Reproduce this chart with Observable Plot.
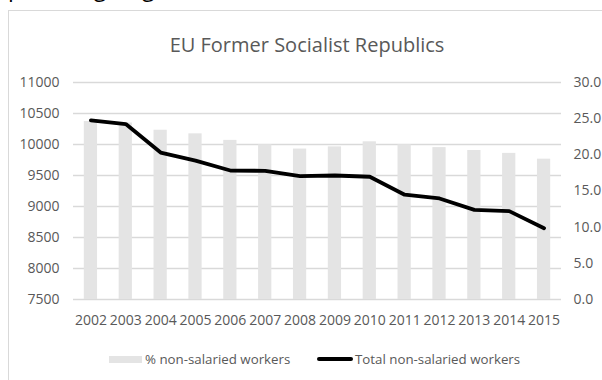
<!DOCTYPE html>
<html>
<head>
<meta charset="utf-8">
<script src="https://cdn.jsdelivr.net/npm/d3@7"></script>
<script src="https://cdn.jsdelivr.net/npm/@observablehq/plot@0.6"></script>
<style>
  html, body { margin: 0; padding: 0; background: #fff; }
  #wrap { position: relative; width: 602px; height: 380px; overflow: hidden; background: #fff; font-family: "Open Sans", sans-serif; }
  #frame { position: absolute; left: 8px; top: 10px; width: 1000px; height: 1000px; border-left: 1px solid #d9d9d9; border-top: 1px solid #d9d9d9; }
  #cut { position: absolute; left: 8px; top: -24px; font-size: 23px; line-height: 23px; letter-spacing: -1.2px; word-spacing: 2px; color: #000; white-space: nowrap; }
  #title { position: absolute; left: 0; width: 614px; top: 32px; line-height: 26px; text-align: center; font-size: 20px; color: #595959; }
  #chart { position: absolute; left: 0; top: 70px; }
  .lg { position: absolute; font-size: 13.3px; color: #595959; line-height: 16px; top: 351px; white-space: nowrap; }
  .sw { position: absolute; }
</style>
</head>
<body>
<div id="wrap">
  <div id="frame"></div>
  <div id="cut">percentage (right), 2002-2015</div>
  <div id="title">EU Former Socialist Republics</div>
  <div id="chart"></div>
  <div class="sw" style="left:109px;top:356px;width:33px;height:7px;background:#e4e4e4"></div>
  <div class="lg" style="left:145px">% non-salaried workers</div>
  <div class="sw" style="left:317px;top:356.5px;width:36px;height:4px;background:#000;border-radius:2px"></div>
  <div class="lg" style="left:355px">Total non-salaried workers</div>
</div>
<script>
const years = ["2002","2003","2004","2005","2006","2007","2008","2009","2010","2011","2012","2013","2014","2015"];
const pctNonSalaried = [24.6, 24.4, 23.4, 22.9, 22.0, 21.4, 20.8, 21.1, 21.8, 21.4, 21.0, 20.6, 20.2, 19.4];
const totalNonSalaried = [10390, 10330, 9870, 9740, 9580, 9575, 9490, 9500, 9480, 9190, 9130, 8945, 8925, 8650];
const leftTicks = [7500, 8000, 8500, 9000, 9500, 10000, 10500, 11000];
const rightTicks = [0, 5, 10, 15, 20, 25, 30];

const leftMin = 7500, leftMax = 11000, rightMax = 30;
const toLeft = v => leftMin + v * (leftMax - leftMin) / rightMax;
const toPct = v => (v - leftMin) * rightMax / (leftMax - leftMin);

const rows = years.map((year, i) => ({year, pct: pctNonSalaried[i], total: totalNonSalaried[i]}));

const chart = Plot.plot({
  width: 602,
  height: 260,
  marginLeft: 73,
  marginRight: 41,
  marginTop: 12,
  marginBottom: 31,
  style: {fontFamily: "Open Sans", fontSize: "14px", color: "#595959", background: "transparent", overflow: "visible"},
  x: {type: "band", domain: years, paddingInner: 0.62, paddingOuter: 0.31, round: false, label: null},
  y: {domain: [leftMin, leftMax], label: null},
  marks: [
    Plot.gridY(leftTicks, {stroke: "#d9d9d9", strokeOpacity: 1, strokeWidth: 1.3}),
    Plot.barY(rows, {x: "year", y1: leftMin, y2: d => toLeft(d.pct), fill: "#e4e4e4"}),
    Plot.lineY(rows, {x: "year", y: "total", stroke: "#000", strokeWidth: 3.8, strokeLinejoin: "round", strokeLinecap: "round"}),
    Plot.axisY(leftTicks, {anchor: "left", tickSize: 0, tickPadding: 14, label: null, tickFormat: d => String(d), fill: "#595959"}),
    Plot.axisY(rightTicks.map(toLeft), {anchor: "right", tickSize: 0, tickPadding: 12, label: null, tickFormat: d => toPct(d).toFixed(1), fill: "#595959"}),
    Plot.axisX(years, {tickSize: 0, tickPadding: 16, label: null, fill: "#595959"})
  ]
});
document.getElementById("chart").appendChild(chart);
</script>
</body>
</html>
